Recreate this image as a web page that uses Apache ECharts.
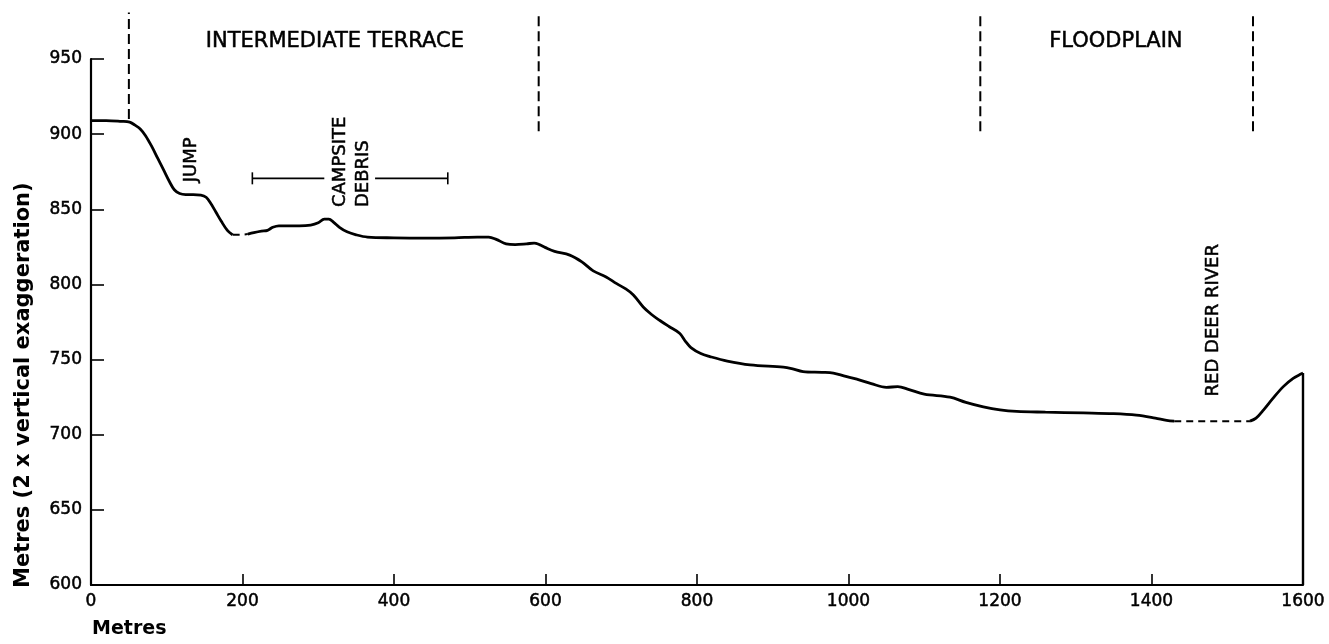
<!DOCTYPE html>
<html>
<head>
<meta charset="utf-8">
<title>Cross-section profile</title>
<script src="https://cdn.jsdelivr.net/npm/echarts@6/dist/echarts.min.js"></script>
<style>
  html, body { margin: 0; padding: 0; background: #fff; }
  #chart { width: 1329px; height: 644px; }
</style>
</head>
<body>
<div id="chart"></div>
<script>
// Ground profile: distance along the section (m) and elevation (m)
const profileDistance = [
  0, 20, 40, 51, 58, 65, 72, 80, 88, 96, 104, 110, 117, 125, 135, 145, 152, 158, 165, 172, 180, 187,
  197, 207,
  215, 225, 233, 240, 248, 260, 275, 290, 300, 308, 314, 320, 328, 338, 350, 365, 400, 440, 480, 510, 525,
  535, 548, 560, 575, 585, 592, 600, 612, 632, 648, 663, 680, 694, 706, 716, 729, 740, 751, 763, 777, 785,
  792, 805, 817, 840, 870, 914, 925, 940, 965, 980, 995, 1011, 1030, 1050, 1065, 1080, 1100, 1134, 1155,
  1178, 1200, 1222, 1260, 1310, 1350, 1380, 1405, 1420, 1430,
  1480, 1530,
  1538, 1548, 1560, 1574, 1587, 1598, 1600
];
const profileElevation = [
  909, 909, 908.5, 908, 906, 903.5, 899, 892, 884, 876, 868, 863, 860.5, 859.8, 859.8, 859.5, 858, 854, 848, 842, 836, 833,
  833, 833.5,
  834.5, 835.5, 836, 838, 839, 839, 839, 839.5, 841, 843.5, 843.5, 841.5, 838, 835, 833, 831.5, 831, 830.8, 831, 831.5, 831.5,
  830, 827, 826.5, 827, 827.5, 826.5, 824.5, 822, 819.5, 815, 809, 805, 800.5, 797, 793, 785, 780, 776, 772, 767.5, 762,
  758, 754, 752, 749, 746.5, 745, 744, 742, 741.5, 741, 739, 737, 734, 731.5, 732, 730, 727, 725, 721.5,
  718.5, 716.5, 715.5, 715, 714.5, 714, 713, 711, 709.5, 709,
  709, 709,
  711, 716.5, 724, 732, 737.5, 740.5, 741
];
// Stretches of the profile that were inferred (drawn dashed)
const inferredSpans = [[187, 207], [1430, 1530]];

// Axis ticks
const xTicks = { min: 0, max: 1600, interval: 200 };
const yTicks = { min: 600, max: 950, interval: 50 };

// Zone boundaries (distance, lower and upper elevation of the dashed marker)
const boundaryDistance = [50, 591, 1174, 1534];
const boundaryLow = [910, 902, 902, 902];
const boundaryHigh = [981, 981, 981, 981];

// Zone headings: text, centre distance, elevation
const zoneNames = ['INTERMEDIATE TERRACE', 'FLOODPLAIN'];
const zoneCentre = [322, 1353];
const zoneElevation = [961.5, 961.5];

// Upright annotations: text, distance, elevation where the text starts
const noteText = ['JUMP', 'CAMPSITE', 'DEBRIS', 'RED DEER RIVER'];
const noteDistance = [133, 329, 359, 1481];
const noteElevation = [868, 851.5, 851.5, 725.5];

// Campsite debris extent: from, to, elevation, gap left open for the label
const debrisSpan = [213, 471];
const debrisElevation = 870.6;
const debrisLabelGap = [308, 375];

const FONT = '"DejaVu Sans", "Liberation Sans", sans-serif';
// A hairline outline gives the lettering a slightly heavier, printed look
const INK = { fill: '#000', stroke: '#000', lineWidth: 0.5 };

const points = profileDistance.map((d, i) => [d, profileElevation[i]]);
const within = (lo, hi) => points.filter(p => p[0] >= lo && p[0] <= hi);

// Split the profile into measured (solid) and inferred (dashed) runs
const solidRuns = [];
let start = profileDistance[0];
inferredSpans.forEach(([a, b]) => { solidRuns.push(within(start, a)); start = b; });
solidRuns.push(within(start, profileDistance[profileDistance.length - 1]));
const dashedRuns = inferredSpans.map(([a, b]) => within(a, b));

const last = points[points.length - 1];
const bankWall = [last, [last[0], yTicks.min]];

const series = [];
solidRuns.forEach(run => series.push({
  type: 'line', data: run, symbol: 'none', smooth: 0.35, silent: true,
  lineStyle: { color: '#000', width: 2.8 }, z: 3
}));
dashedRuns.forEach(run => series.push({
  type: 'line', data: run, symbol: 'none', silent: true,
  lineStyle: { color: '#000', width: 2, type: [7, 5] }, z: 3
}));
series.push({
  type: 'line', data: bankWall, symbol: 'none', silent: true,
  lineStyle: { color: '#000', width: 2.4 }, z: 3
});

// Dashed zone boundaries
series.push({
  type: 'custom', silent: true, clip: false,
  data: boundaryDistance.map((d, i) => [d, boundaryLow[i], boundaryHigh[i]]),
  encode: { x: 0, y: [1, 2] },
  renderItem(params, api) {
    const p1 = api.coord([api.value(0), api.value(1)]);
    const p2 = api.coord([api.value(0), api.value(2)]);
    return {
      type: 'line',
      shape: { x1: p1[0], y1: p1[1], x2: p2[0], y2: p2[1] },
      style: { stroke: '#000', lineWidth: 2, lineDash: [10, 5] }
    };
  }
});

// Campsite debris range bar
series.push({
  type: 'custom', silent: true, clip: false,
  data: [[debrisSpan[0], debrisSpan[1], debrisElevation, debrisLabelGap[0], debrisLabelGap[1]]],
  encode: { x: [0, 1], y: 2 },
  renderItem(params, api) {
    const y = api.value(2);
    const a = api.coord([api.value(0), y]);
    const b = api.coord([api.value(1), y]);
    const g1 = api.coord([api.value(3), y]);
    const g2 = api.coord([api.value(4), y]);
    const st = { stroke: '#000', lineWidth: 1.6 };
    const cap = 6;
    return {
      type: 'group',
      children: [
        { type: 'line', shape: { x1: a[0], y1: a[1], x2: g1[0], y2: g1[1] }, style: st },
        { type: 'line', shape: { x1: g2[0], y1: g2[1], x2: b[0], y2: b[1] }, style: st },
        { type: 'line', shape: { x1: a[0], y1: a[1] - cap, x2: a[0], y2: a[1] + cap }, style: st },
        { type: 'line', shape: { x1: b[0], y1: b[1] - cap, x2: b[0], y2: b[1] + cap }, style: st }
      ]
    };
  }
});

// Zone headings
series.push({
  type: 'custom', silent: true, clip: false,
  data: zoneNames.map((t, i) => [zoneCentre[i], zoneElevation[i], t]),
  encode: { x: 0, y: 1 },
  renderItem(params, api) {
    const p = api.coord([api.value(0), api.value(1)]);
    return {
      type: 'text', x: p[0], y: p[1],
      style: Object.assign({
        text: zoneNames[params.dataIndex],
        font: '21px ' + FONT, textAlign: 'center', textVerticalAlign: 'middle'
      }, INK)
    };
  }
});

// Upright annotations
series.push({
  type: 'custom', silent: true, clip: false,
  data: noteText.map((t, i) => [noteDistance[i], noteElevation[i], t]),
  encode: { x: 0, y: 1 },
  renderItem(params, api) {
    const p = api.coord([api.value(0), api.value(1)]);
    return {
      type: 'text', x: p[0], y: p[1], rotation: Math.PI / 2,
      style: Object.assign({
        text: noteText[params.dataIndex],
        font: '18px ' + FONT, textAlign: 'left', textVerticalAlign: 'middle'
      }, INK)
    };
  }
});

const tickLabel = {
  color: '#000', fontFamily: FONT, fontSize: 17,
  textBorderColor: '#000', textBorderWidth: 0.5,
  formatter: v => String(v)
};

const chart = echarts.init(document.getElementById('chart'), null, { renderer: 'canvas' });
chart.setOption({
  animation: false,
  backgroundColor: '#fff',
  grid: { left: 91, right: 26, top: 59, bottom: 59, containLabel: false, outerBoundsMode: 'none' },
  xAxis: {
    type: 'value', min: xTicks.min, max: xTicks.max, interval: xTicks.interval,
    axisLine: { show: true, onZero: false, lineStyle: { color: '#000', width: 2.2 } },
    axisTick: { show: true, inside: true, length: 11, lineStyle: { color: '#000', width: 1.6 } },
    axisLabel: Object.assign({ margin: 8 }, tickLabel),
    splitLine: { show: false }
  },
  yAxis: {
    type: 'value', min: yTicks.min, max: yTicks.max, interval: yTicks.interval,
    axisLine: { show: true, onZero: false, lineStyle: { color: '#000', width: 2.2 } },
    axisTick: { show: true, inside: true, length: 13, lineStyle: { color: '#000', width: 1.6 } },
    axisLabel: Object.assign({ margin: 9 }, tickLabel),
    splitLine: { show: false }
  },
  graphic: [
    {
      type: 'text', x: 24, y: 588, rotation: Math.PI / 2,
      style: {
        text: 'Metres (2 x vertical exaggeration)', fill: '#000',
        font: 'bold 21px ' + FONT, textAlign: 'left', textVerticalAlign: 'middle'
      }
    },
    {
      type: 'text', x: 92, y: 629,
      style: {
        text: 'Metres', fill: '#000',
        font: 'bold 19px ' + FONT, textAlign: 'left', textVerticalAlign: 'middle'
      }
    }
  ],
  series
});
</script>
</body>
</html>
